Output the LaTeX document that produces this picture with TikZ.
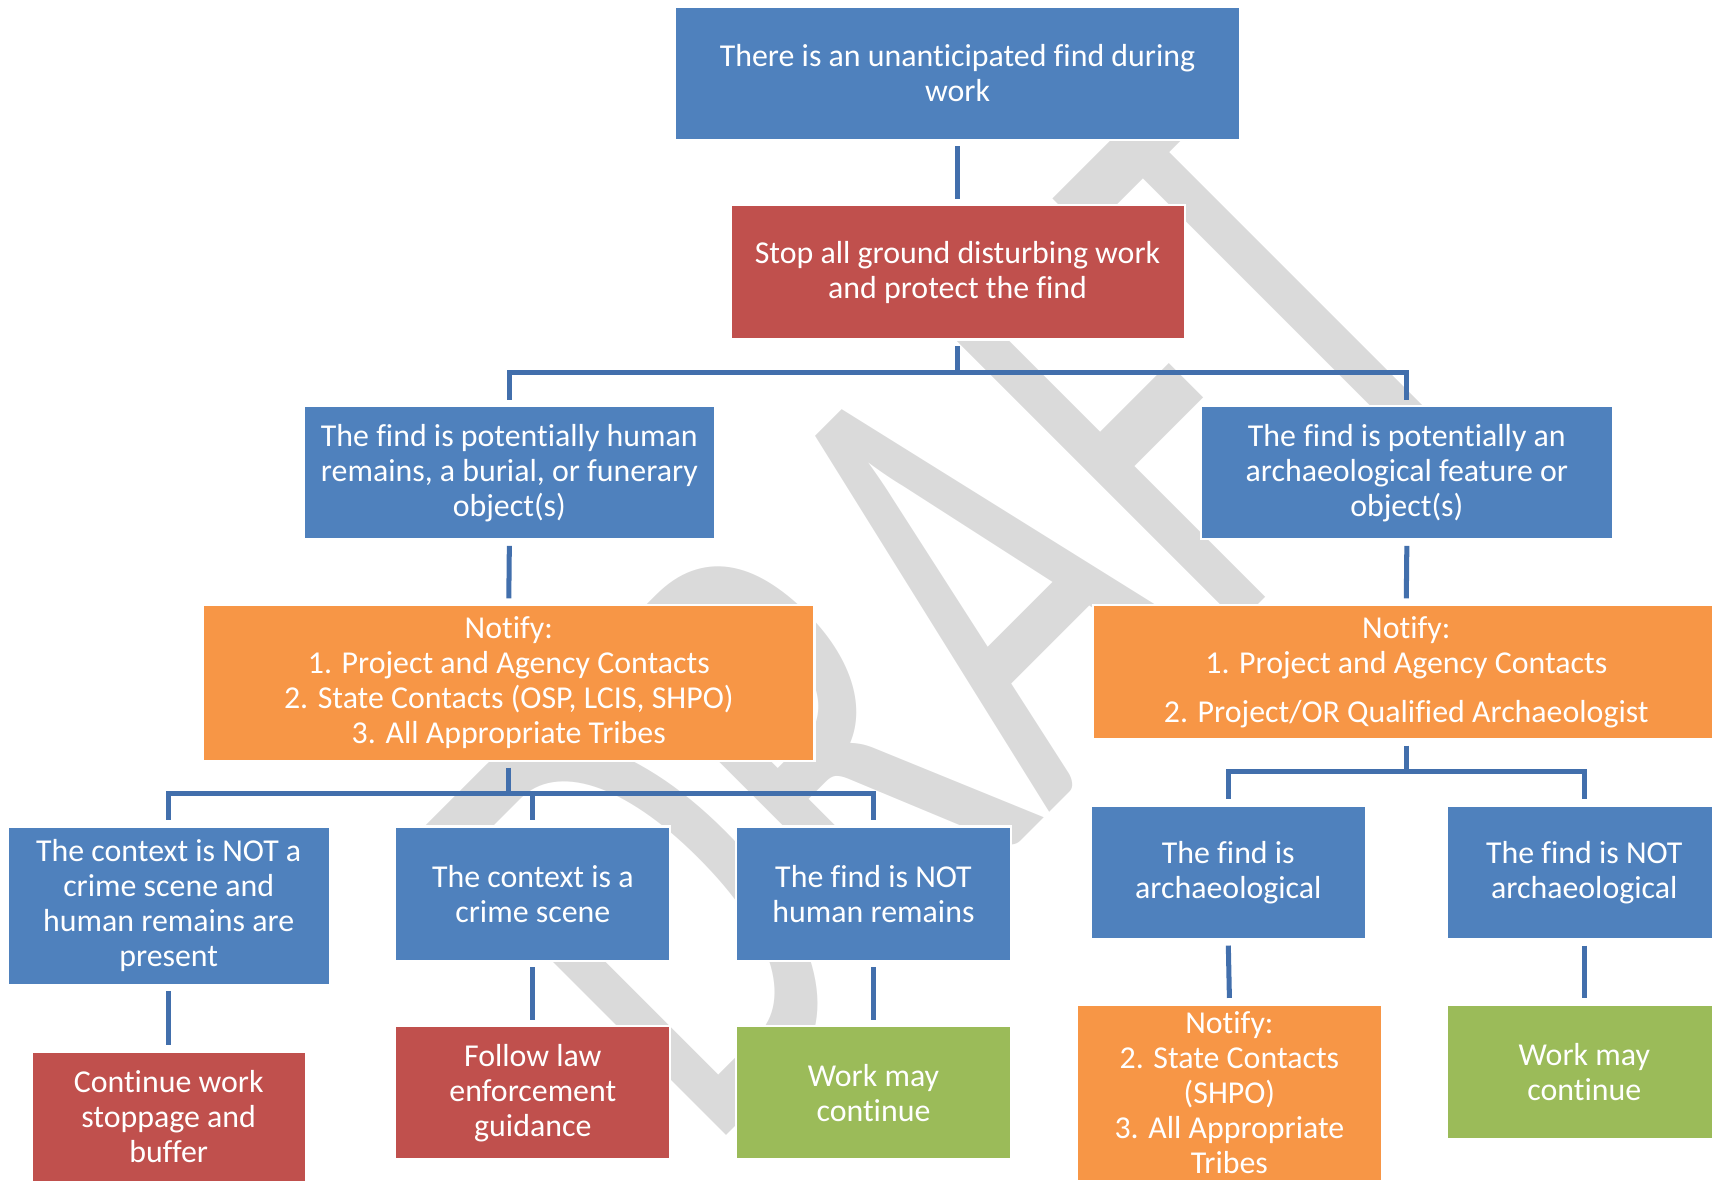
\documentclass[tikz,border=0pt]{standalone}
\usepackage{fontspec}
\setmainfont{Carlito}[Ligatures=NoCommon]
\usepackage{graphicx}
\usetikzlibrary{calc}
\definecolor{bxblue}{RGB}{79,129,189}
\definecolor{bxred}{RGB}{192,80,77}
\definecolor{bxorange}{RGB}{247,150,70}
\definecolor{bxgreen}{RGB}{155,187,89}
\definecolor{lnblue}{RGB}{66,111,172}
\definecolor{wmgray}{RGB}{218,218,218}
\tikzset{
  box/.style={rectangle, draw=white, line width=1pt, text=white, align=center,
    inner sep=0pt, outer sep=3pt, font=\fontsize{14.6}{16}\selectfont},
  bluebox/.style={box, fill=bxblue},
  redbox/.style={box, fill=bxred},
  orangebox/.style={box, fill=bxorange},
  greenbox/.style={box, fill=bxgreen},
  sz/.style n args={2}{minimum width=#1*0.5pt, minimum height=#2*0.5pt},
  conn/.style={draw=lnblue, line width=2.3pt},
  wm/.style={text=wmgray, inner sep=0pt, font=\fontsize{308}{308}\selectfont}
}
\begin{document}
\begin{tikzpicture}[x=0.5pt,y=-0.5pt]
\useasboundingbox (0,0) rectangle (1568,1082.6);
\clip (0,0) rectangle (1568,1082.6);
% watermark
\node[wm, rotate=45] (wmark) at (870,556) {\scalebox{0.62}[1]{DRAFT}};
% boxes
\node[bluebox, sz={518}{122}] (top) at (877,67) {There is an unanticipated find during\\work};
\node[redbox, sz={416}{123}] (stop) at (877,249.5) {Stop all ground disturbing work\\and protect the find};
\node[bluebox, sz={377}{122}] (hum) at (466.5,433) {The find is potentially human\\remains, a burial, or funerary\\object(s)};
\node[bluebox, sz={377}{122}] (arc) at (1288.5,433) {The find is potentially an\\archaeological feature or\\object(s)};
\node[orangebox, sz={560}{143}] (notL) at (466,625.5) {Notify:\\1. Project and Agency Contacts\\2. State Contacts (OSP, LCIS, SHPO)\\3. All Appropriate Tribes};
\node[orangebox, sz={574}{123}] (notR) at (1288,615.5) {Notify:\\1. Project and Agency Contacts\\[6.5pt]2. Project/OR Qualified Archaeologist};
\node[bluebox, sz={295}{145}] (ctxN) at (154.5,829.5) {The context is NOT a\\crime scene and\\human remains are\\present};
\node[bluebox, sz={252}{123}] (ctxC) at (488,818.5) {The context is a\\crime scene};
\node[bluebox, sz={252}{123}] (notH) at (800,818.5) {The find is NOT\\human remains};
\node[redbox, sz={251}{120}] (cont) at (154.5,1023) {Continue work\\stoppage and\\buffer};
\node[redbox, sz={252}{122}] (law) at (488,1001) {Follow law\\enforcement\\guidance};
\node[greenbox, sz={252}{122}] (wmc1) at (800,1001) {Work may\\continue};
\node[bluebox, sz={252}{122}] (isA) at (1125,799) {The find is\\archaeological};
\node[bluebox, sz={252}{122}] (notA) at (1451,799) {The find is NOT\\archaeological};
\node[orangebox, sz={280}{162}] (not3) at (1126,1001) {Notify:\\2. State Contacts\\(SHPO)\\3. All Appropriate\\Tribes};
\node[greenbox, sz={252}{123}] (wmc2) at (1451,981.5) {Work may\\continue};
% connectors
\draw[conn] (top.south) -- (stop.north);
\draw[conn] (stop.south) -- (stop.south |- 0,341) -| (hum.north);
\draw[conn] (stop.south |- 0,341) -| (arc.north);
\draw[conn] (hum.south) -- (notL.north);
\draw[conn] (arc.south) -- (notR.north);
\draw[conn] (notL.south) -- (notL.south |- 0,727) -| (ctxN.north);
\draw[conn] (notL.south |- 0,727) -| (notH.north);
\draw[conn] (ctxC.north) -- (ctxC.north |- 0,727);
\draw[conn] (ctxN.south) -- (cont.north);
\draw[conn] (ctxC.south) -- (law.north);
\draw[conn] (notH.south) -- (wmc1.north);
\draw[conn] (notR.south) -- (notR.south |- 0,707) -| (isA.north);
\draw[conn] (notR.south |- 0,707) -| (notA.north);
\draw[conn] (isA.south) -- (not3.north);
\draw[conn] (notA.south) -- (wmc2.north);
\end{tikzpicture}
\end{document}
